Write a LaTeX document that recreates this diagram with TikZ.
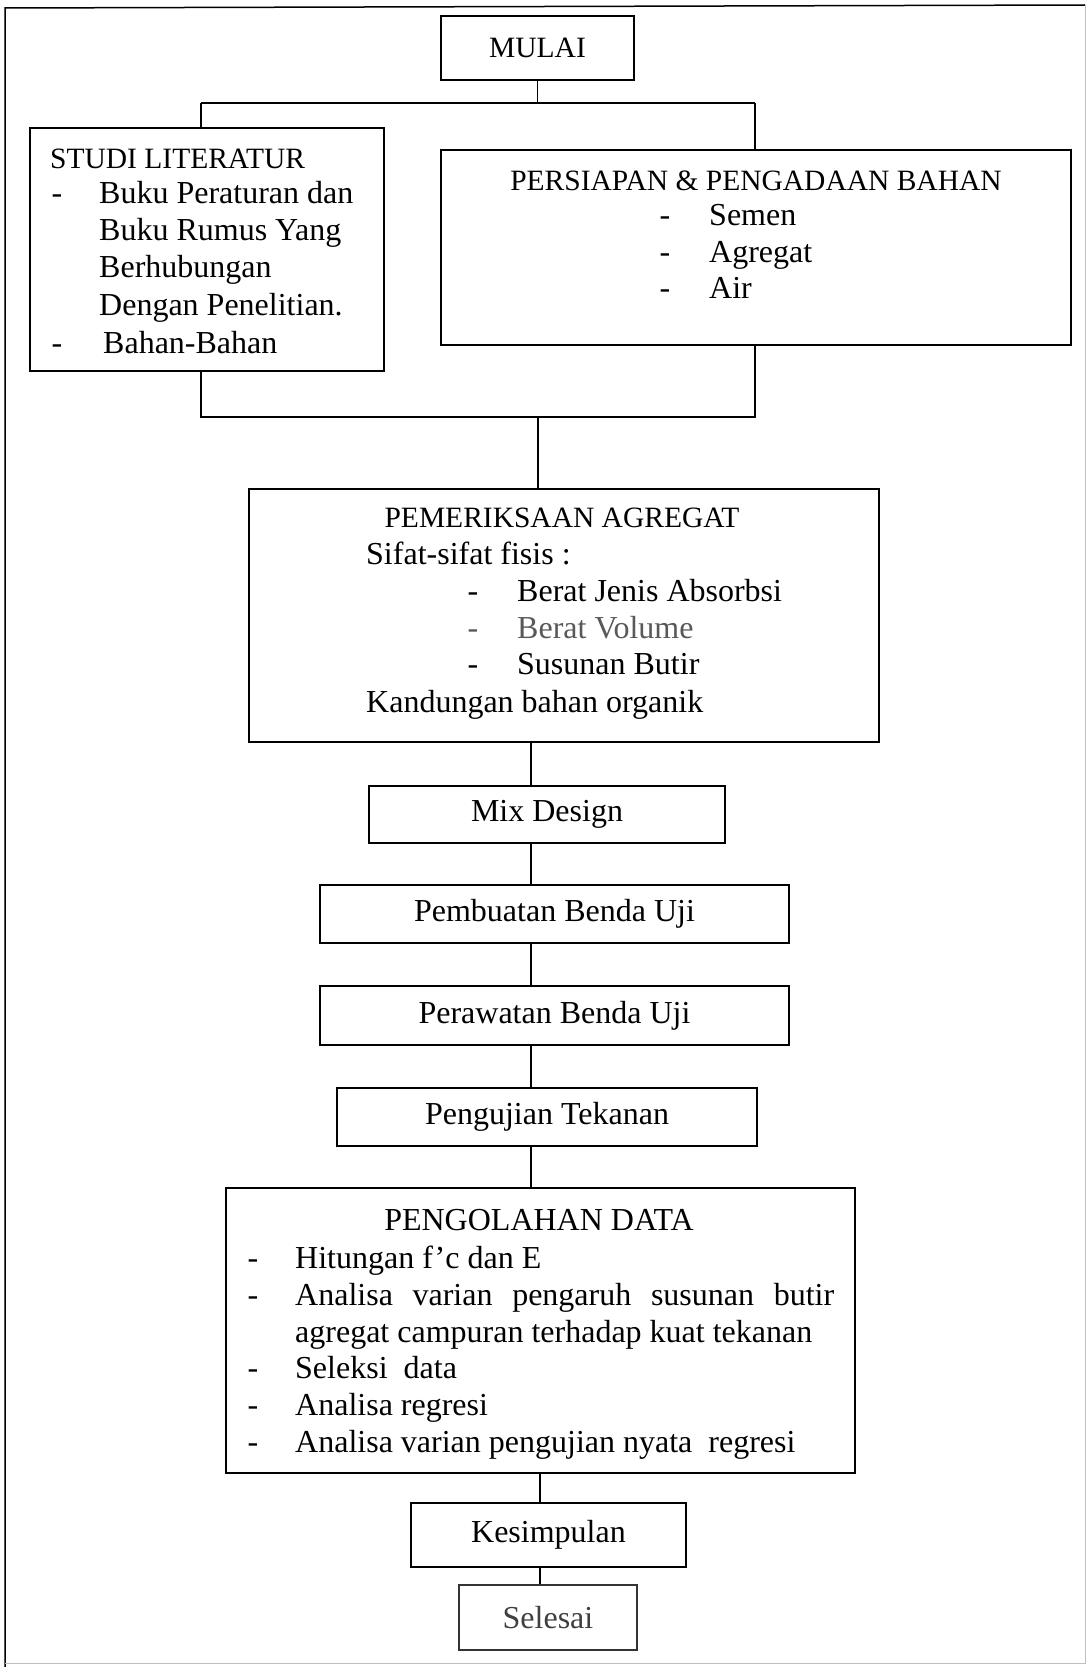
\documentclass[tikz,border=0pt]{standalone}
\usepackage{fontspec}
\setmainfont{Liberation Serif}
\begin{document}
\begin{tikzpicture}[x=1pt,y=-1pt]
\tikzset{
 box/.style={draw=black, line width=1.2pt, inner sep=0pt, font=\fontsize{32}{37}\selectfont},
 ln/.style={line width=1.2pt},
 txt/.style={inner sep=0pt, anchor=base west, font=\fontsize{32}{37}\selectfont},
 captxt/.style={inner sep=0pt, anchor=base, font=\fontsize{29.5}{37}\selectfont},
 dsh/.style={inner sep=0pt, anchor=base, font=\fontsize{32}{37}\selectfont},
}
\useasboundingbox (0,0) rectangle (1088,1667);
% outer frame
\draw[line width=1.5pt] (5,1667) -- (5,8) -- (1085,5);
\draw[line width=1pt, black!25] (1085,5) -- (1085,1663) -- (5,1663);

% boxes
\node[box, minimum width=193, minimum height=64] (mulai) at (537.5,48) {\fontsize{29.5}{35}\selectfont MULAI};
\node[box, minimum width=354, minimum height=243] (studi) at (207,249.5) {};
\node[box, minimum width=630, minimum height=195] (persiapan) at (756,247.5) {};
\node[box, minimum width=630, minimum height=253] (pem) at (564,615.5) {};
\node[box, minimum width=356, minimum height=57] (mix) at (547,814.5) {Mix Design};
\node[box, minimum width=469, minimum height=58] (buat) at (554.5,914) {Pembuatan Benda Uji};
\node[box, minimum width=469, minimum height=59] (rawat) at (554.5,1015.5) {Perawatan Benda Uji};
\node[box, minimum width=420, minimum height=58] (uji) at (547,1117) {Pengujian Tekanan};
\node[box, minimum width=629, minimum height=285] (olah) at (540.5,1330.5) {};
\node[box, minimum width=275, minimum height=64] (simpul) at (548.5,1535) {Kesimpulan};
\node[box, draw=black!80, minimum width=178, minimum height=65] (selesai) at (548,1617.5) {\color{black!75}Selesai};

% connectors
\coordinate (splitL) at (201,103);
\coordinate (splitR) at (755,103);
\draw[ln] (mulai.south) -- (mulai.south |- splitL);
\draw[ln] (splitL) -- (splitR);
\draw[ln] (splitL) -- (splitL |- studi.north);
\draw[ln] (splitR) -- (splitR |- persiapan.north);
\coordinate (joinL) at (201,417);
\coordinate (joinR) at (755,417);
\coordinate (joinM) at (538,417);
\draw[ln] (joinL |- studi.south) -- (joinL) -- (joinR) -- (joinR |- persiapan.south);
\draw[ln] (joinM) -- (joinM |- pem.north);
\coordinate (cA) at (531,0);
\draw[ln] (pem.south -| cA) -- (mix.north -| cA);
\draw[ln] (mix.south -| cA) -- (buat.north -| cA);
\draw[ln] (buat.south -| cA) -- (rawat.north -| cA);
\draw[ln] (rawat.south -| cA) -- (uji.north -| cA);
\draw[ln] (uji.south -| cA) -- (olah.north -| cA);
\coordinate (cB) at (540,0);
\draw[ln] (olah.south -| cB) -- (simpul.north -| cB);
\draw[ln] (simpul.south -| cB) -- (selesai.north -| cB);

% STUDI LITERATUR text
\node[captxt, anchor=base west] (s0) at (50,168) {STUDI LITERATUR};
\node[dsh] (s1d) at (57,203) {-};
\node[txt] (s1) at (99,203) {Buku Peraturan dan};
\node[txt] (s2) at (99,240) {Buku Rumus Yang};
\node[txt] (s3) at (99,277) {Berhubungan};
\node[txt] (s4) at (99,315) {Dengan Penelitian.};
\node[dsh] (s5d) at (57,353) {-};
\node[txt] (s5) at (103,353) {Bahan-Bahan};

% PERSIAPAN text
\node[captxt] (p0) at (756,190) {PERSIAPAN \& PENGADAAN BAHAN};
\node[dsh] (p1d) at (665,225) {-};
\node[txt] (p1) at (709,225) {Semen};
\node[dsh] (p2d) at (665,262) {-};
\node[txt] (p2) at (709,262) {Agregat};
\node[dsh] (p3d) at (665,298) {-};
\node[txt] (p3) at (709,298) {Air};

% PEMERIKSAAN text
\node[captxt] (m0) at (562,527) {PEMERIKSAAN AGREGAT};
\node[txt] (m1) at (366,564) {Sifat-sifat fisis :};
\node[dsh] (m2d) at (473,601) {-};
\node[txt] (m2) at (517,601) {Berat Jenis Absorbsi};
\node[dsh, text=black!65] (m3d) at (473,638) {-};
\node[txt, text=black!65] (m3) at (517,638) {Berat Volume};
\node[dsh] (m4d) at (473,674) {-};
\node[txt] (m4) at (517,674) {Susunan Butir};
\node[txt] (m5) at (366,712) {Kandungan bahan organik};

% PENGOLAHAN text
\node[dsh, font=\fontsize{32}{37}\selectfont] (o0) at (539,1230) {PENGOLAHAN DATA};
\node[dsh] (o1d) at (253,1268) {-};
\node[txt] (o1) at (295,1268) {Hitungan f’c dan E};
\node[dsh] (o2d) at (253,1305) {-};
\node[txt] (o2) at (295,1305) {\makebox[539pt][s]{Analisa\hfill varian\hfill pengaruh\hfill susunan\hfill butir}};
\node[txt] (o3) at (295,1342) {agregat campuran terhadap kuat tekanan};
\node[dsh] (o4d) at (253,1378) {-};
\node[txt] (o4) at (295,1378) {Seleksi\ \ data};
\node[dsh] (o5d) at (253,1415) {-};
\node[txt] (o5) at (295,1415) {Analisa regresi};
\node[dsh] (o6d) at (253,1452) {-};
\node[txt] (o6) at (295,1452) {Analisa varian pengujian nyata\ \ regresi};
\end{tikzpicture}
\end{document}
